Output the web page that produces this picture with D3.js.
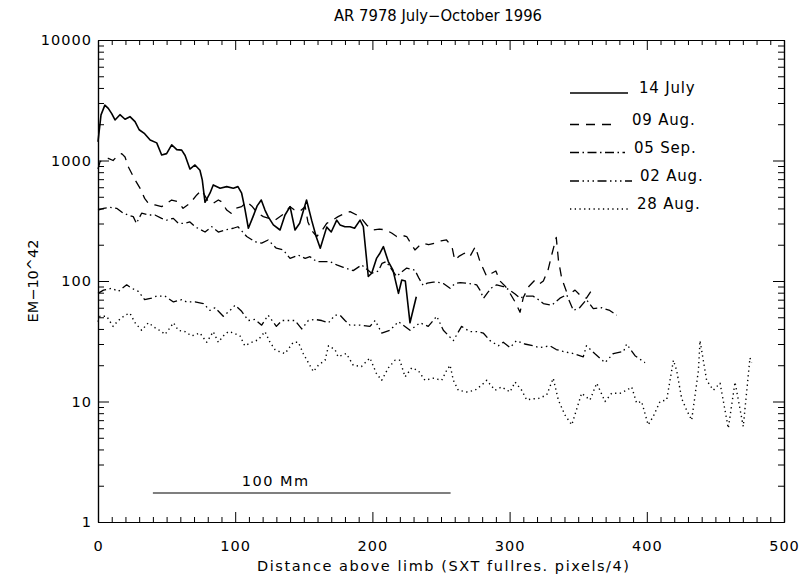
<!DOCTYPE html>
<html>
<head>
<meta charset="utf-8">
<script src="https://cdn.jsdelivr.net/npm/d3@7/dist/d3.min.js"></script>
<style>
  html, body { margin: 0; padding: 0; background: #fff; }
  svg { display: block; }
  text { font-family: "DejaVu Sans", "Liberation Sans", sans-serif; fill: #000; }
</style>
</head>
<body>
<svg id="chart" width="801" height="574"></svg>
<script>
// Emission measure profiles of AR 7978 versus height above the limb
const titleText = "AR 7978 July\u2212October 1996";
const xLabel = "Distance above limb (SXT fullres. pixels/4)";
const yLabel = "EM\u221210^42";

const xTicks = [0, 100, 200, 300, 400, 500];
const yTicks = [1, 10, 100, 1000, 10000];

// [distance, EM] pairs for each observation date
const july14 = [
  [0,1430],[2.2,2390],[5,2880],[7.5,2710],[10,2450],[12.4,2170],[16,2400],[19.7,2200],[23.3,2310],[27,2100],
  [30,1800],[34,1670],[38,1480],[42.8,1400],[46.4,1110],[50,1140],[53.7,1350],[57.4,1230],[61,1220],[63.5,1100],
  [67,850],[70.7,918],[74.3,830],[76,690],[78,450],[81.6,535],[84,627],[89,589],[93.8,607],[98.6,589],
  [102,607],[104.7,535],[107,400],[109.6,274],[113,342],[116,420],[119,470],[121.7,388],[124,342],[127.8,292],
  [132.7,265],[136.3,353],[140,414],[143.6,265],[147,301],[152,470],[155.7,320],[159,234],[162,187],[166.7,280],
  [170,255],[174,320],[176.4,292],[180,282],[183.7,282],[187,274],[191,320],[193.4,282],[197,109],[199.5,116],
  [203,154],[205.5,170],[208,193],[211.6,145],[215,123],[219,79],[221.4,102],[224,100],[227.4,45],[232,74]
];
const aug09 = [
  [0,850],[1.5,980],[4,1000],[7.5,1040],[11,1000],[14.8,1110],[17.3,1140],[19.7,1070],[22,890],[27,690],
  [30.6,589],[34,485],[36.7,441],[41.5,428],[46.4,414],[50,440],[53.7,470],[58.5,455],[62,401],[67,441],
  [72,518],[75.6,569],[80.4,455],[84,441],[87.7,470],[90,455],[93.8,388],[97,365],[100,401],[104.7,414],
  [108.4,455],[112,420],[116,370],[120.5,342],[125,330],[129,320],[133,345],[136,365],[140,414],[143,390],
  [147,377],[151,414],[153,309],[156,260],[159.4,234],[163,260],[166.7,301],[171,320],[175,342],[179,360],
  [183.7,377],[188.6,353],[192,330],[196,290],[200.6,265],[205,270],[210,265],[214,250],[217.7,234],[221,240],
  [225,234],[228,205],[231,181],[234,195],[237,206],[241,200],[245.6,206],[250,215],[254,219],[258,193],
  [260,149],[263,160],[267,170],[271,159],[275,193],[278.4,145],[283.3,109],[287,116],[290,121],[293,100],
  [297,90],[300,80],[304,67],[307.6,55],[310,73],[314,90],[318.5,102],[322,95],[324.6,100],[328,123],
  [331,170],[334,230],[335.6,149],[338,105],[341.6,81],[345,80],[347.7,84],[352,75],[356,72],[361,88]
];
const sep05 = [
  [0,388],[4,401],[8.7,408],[13.6,401],[18.4,365],[22,353],[25.7,342],[28,301],[31.8,365],[36.7,353],
  [41.5,353],[46.4,331],[50,320],[54.9,331],[58.5,301],[63.4,301],[67,309],[70.7,282],[74,270],[78,255],
  [82.9,282],[87.7,255],[92.6,265],[98.6,274],[102,282],[108.4,234],[114.4,212],[119.3,206],[124,219],[130,187],
  [135,181],[140,154],[146,164],[151,154],[154.5,159],[159.4,145],[164,145],[169,145],[174,136],[178.8,130],
  [186,122],[192.2,136],[196,125],[199.5,116],[204.3,121],[207,140],[210,145],[214,125],[217.7,109],[221,118],
  [225,128],[231,123],[234,105],[237,92],[240,96],[244.4,98],[249,97],[252,95],[256.6,87],[260,95],
  [264,97],[268,96],[271,95],[276,93],[278.4,84],[281,72],[284,80],[287,88],[290.6,93],[295.4,90],
  [300,84],[304,78],[307.6,72],[311,75],[317,75],[321,70],[324.6,65],[330.7,63],[336.7,72],[341.6,77],
  [346.5,57],[351,60],[356,70],[361,59],[367,60],[373,57],[378,52]
];
const aug02 = [
  [0,79],[4,84],[10,87],[14.8,82],[20.9,93],[24.6,87],[29.4,82],[34,70],[39,72],[42.8,75],
  [48.8,75],[55,67],[61,70],[64.6,67],[70.7,67],[76.8,65],[81.6,57],[85.3,60],[91.3,51],[96.2,57],
  [100,63],[104.7,56],[109.6,47],[114.4,48],[119.3,43],[124,52],[130,42],[134,47],[138.7,47],[143.6,47],
  [148.5,40],[153.3,47],[158,48],[163,47],[168,45],[172.7,52],[176.4,52],[180,47],[183.7,43],[191,43],
  [198.2,42],[202,47],[206.8,37],[212.8,39],[219,46],[227.4,39],[234.7,45],[240.7,42],[246.9,51],[251.7,39],
  [259,32],[265,42],[271,38],[276,38],[280.8,37],[285.7,32],[291.8,29],[295.4,31],[300.3,28],[305,32],
  [311,30],[317,29],[322,28],[329.4,29],[334,27],[339,26],[346.5,25],[353.7,23.5],[356,29],[362,25],
  [369.5,21],[375.6,25],[383,26],[385.3,30],[391.4,24],[398.7,21]
];
const aug28 = [
  [0,46],[1.5,51],[6.3,51],[11,42],[14.8,47],[19.7,52],[23.3,54],[27,45],[31.8,39],[36.7,45],
  [41.5,41],[46.4,38],[48.8,36],[52.5,41],[55,45],[58.5,39],[63.4,38],[68.3,35],[74.3,37],[79.2,31],
  [84,38],[87.7,31],[91.3,35],[95,38],[99,37],[103.5,35],[107,29],[112,31],[116.8,32.5],[121.7,38],
  [125.4,31],[129,27],[132,26],[136.3,25],[142.3,31],[146,31],[149.6,25],[153.3,21],[157,17.7],[160.6,20],
  [165.5,22],[168,29],[172.7,27],[175,23.5],[181,25],[186,20],[192,19.5],[198.2,23],[203,17],[206.8,15],
  [211.6,19],[216.5,22],[220,22],[223.8,16],[228.6,19],[233.5,18],[238.3,15],[244.4,15.6],[250.5,15],[254,18],
  [256.6,20],[259,15],[262.6,12.4],[268.7,12],[274.8,12.4],[279.7,13.7],[283.3,15],[289.4,12.4],[294.2,13.2],[300.3,12],
  [304,14.5],[308.8,12.4],[312.5,10.3],[316,10.5],[321,10.6],[327,11.3],[331.8,15.6],[335.5,10.3],[340.4,7.7],[345.3,6.4],
  [352.5,11.7],[358.6,10.3],[363.5,14.2],[369.5,10],[374.4,11.7],[380.5,11.7],[385.3,12.4],[389,13.2],[392.6,9.7],[396.2,10],
  [401,6.4],[404.7,7.5],[409.6,10],[414.5,10.3],[419.4,22],[421.8,18],[425.4,10.6],[429,8.5],[432.7,7],[437.6,18],
  [438.8,32],[443.6,15],[448.5,12.4],[453.4,14.2],[459.4,6],[464.3,14.5],[470.3,6.2],[475.2,23],[476.4,21]
];

const seriesNames = ["14 July", "09 Aug.", "05 Sep.", "02 Aug.", "28 Aug."];
const seriesData = [july14, aug09, sep05, aug02, aug28];

// Scale bar: 100 Mm expressed in distance units, drawn at a fixed EM level
const scaleBarLabel = "100 Mm";
const scaleBarX = [40, 257];
const scaleBarEM = 1.74;

// Line appearance per series (solid, dashed, dash-dot, dash-dot-dot-dot, dotted)
const seriesDash = ["none", "9,7", "9,3.5,1.5,3.5", "9,3.5,1.5,3.5,1.5,3.5,1.5,3.5", "1.3,3.4"];
const seriesWidth = [1.6, 1.3, 1.3, 1.3, 1.4];

const svg = d3.select("#chart");
const plotLeft = 98, plotRight = 784, plotTop = 40, plotBottom = 522;

const x = d3.scaleLinear().domain([0, 500]).range([plotLeft, plotRight]);
const y = d3.scaleLog().domain([1, 10000]).range([plotBottom, plotTop]);

const minorX = d3.range(0, 501, 10).filter(v => v % 100 !== 0);
const minorY = [];
for (let d = 1; d < 10000; d *= 10) for (let k = 2; k <= 9; k++) minorY.push(d * k);

const fontSize = 14.5;

function styleAxis(g) {
  g.select(".domain").attr("stroke", "#000").attr("stroke-width", 1.2);
  g.selectAll(".tick line").attr("stroke", "#000").attr("stroke-width", 1);
  g.selectAll("text").attr("font-family", "'DejaVu Sans', 'Liberation Sans', sans-serif")
    .attr("font-size", fontSize).attr("fill", "#000").attr("letter-spacing", 1);
}

// Bottom axis with labels
svg.append("g").attr("transform", `translate(0,${plotBottom})`)
  .call(d3.axisBottom(x).tickValues(xTicks).tickFormat(d3.format("d")).tickSizeInner(-10).tickSizeOuter(0).tickPadding(19))
  .call(styleAxis);
svg.append("g").attr("transform", `translate(0,${plotBottom})`)
  .call(d3.axisBottom(x).tickValues(minorX).tickFormat("").tickSizeInner(-5).tickSizeOuter(0))
  .call(styleAxis);
// Top axis (ticks only)
svg.append("g").attr("transform", `translate(0,${plotTop})`)
  .call(d3.axisTop(x).tickValues(xTicks).tickFormat("").tickSizeInner(-10).tickSizeOuter(0))
  .call(styleAxis);
svg.append("g").attr("transform", `translate(0,${plotTop})`)
  .call(d3.axisTop(x).tickValues(minorX).tickFormat("").tickSizeInner(-5).tickSizeOuter(0))
  .call(styleAxis);
// Left axis with labels
svg.append("g").attr("transform", `translate(${plotLeft},0)`)
  .call(d3.axisLeft(y).tickValues(yTicks).tickFormat(d3.format("d")).tickSizeInner(-11).tickSizeOuter(0).tickPadding(6))
  .call(styleAxis);
svg.append("g").attr("transform", `translate(${plotLeft},0)`)
  .call(d3.axisLeft(y).tickValues(minorY).tickFormat("").tickSizeInner(-6).tickSizeOuter(0))
  .call(styleAxis);
// Right axis (ticks only)
svg.append("g").attr("transform", `translate(${plotRight},0)`)
  .call(d3.axisRight(y).tickValues(yTicks).tickFormat("").tickSizeInner(-11).tickSizeOuter(0))
  .call(styleAxis);
svg.append("g").attr("transform", `translate(${plotRight},0)`)
  .call(d3.axisRight(y).tickValues(minorY).tickFormat("").tickSizeInner(-6).tickSizeOuter(0))
  .call(styleAxis);

// Profiles
const line = d3.line().x(d => x(d[0])).y(d => y(d[1]));
seriesData.forEach((data, i) => {
  svg.append("path")
    .datum(data)
    .attr("d", line)
    .attr("fill", "none")
    .attr("stroke", "#000")
    .attr("stroke-width", seriesWidth[i])
    .attr("stroke-linejoin", "round")
    .attr("stroke-dasharray", seriesDash[i]);
});

// Legend: sample lengths and label offsets per entry
const legendX0 = 570;
const legendLineEnd = [628, 618, 625, 632, 628];
const legendTextX = [639, 632, 634, 640, 637];
const legendBaseline = [93, 124.5, 152.5, 181, 209];
seriesNames.forEach((name, i) => {
  const ly = legendBaseline[i];
  svg.append("line")
    .attr("x1", legendX0).attr("x2", legendLineEnd[i])
    .attr("y1", ly).attr("y2", ly)
    .attr("stroke", "#000").attr("stroke-width", 1.3)
    .attr("stroke-dasharray", seriesDash[i]);
  svg.append("text")
    .attr("x", legendTextX[i]).attr("y", ly)
    .attr("font-size", 15).attr("letter-spacing", 0.8)
    .text(name);
});

// Scale bar
svg.append("line")
  .attr("x1", x(scaleBarX[0])).attr("x2", x(scaleBarX[1]))
  .attr("y1", y(scaleBarEM)).attr("y2", y(scaleBarEM))
  .attr("stroke", "#000").attr("stroke-width", 1.2);
svg.append("text")
  .attr("x", (x(scaleBarX[0]) + x(scaleBarX[1])) / 2 - 26)
  .attr("y", y(scaleBarEM) - 7)
  .attr("text-anchor", "middle")
  .attr("font-size", fontSize).attr("letter-spacing", 1.5)
  .text(scaleBarLabel);

// Title and axis titles
svg.append("text")
  .attr("x", 438).attr("y", 21)
  .attr("text-anchor", "middle").attr("font-size", 15)
  .attr("textLength", 208).attr("lengthAdjust", "spacingAndGlyphs")
  .text(titleText);
svg.append("text")
  .attr("x", 443).attr("y", 571)
  .attr("text-anchor", "middle").attr("font-size", fontSize)
  .attr("textLength", 372).attr("lengthAdjust", "spacing")
  .text(xLabel);
svg.append("text")
  .attr("transform", `translate(38,${(plotTop + plotBottom) / 2}) rotate(-90)`)
  .attr("text-anchor", "middle").attr("font-size", fontSize)
  .text(yLabel);
</script>
</body>
</html>
